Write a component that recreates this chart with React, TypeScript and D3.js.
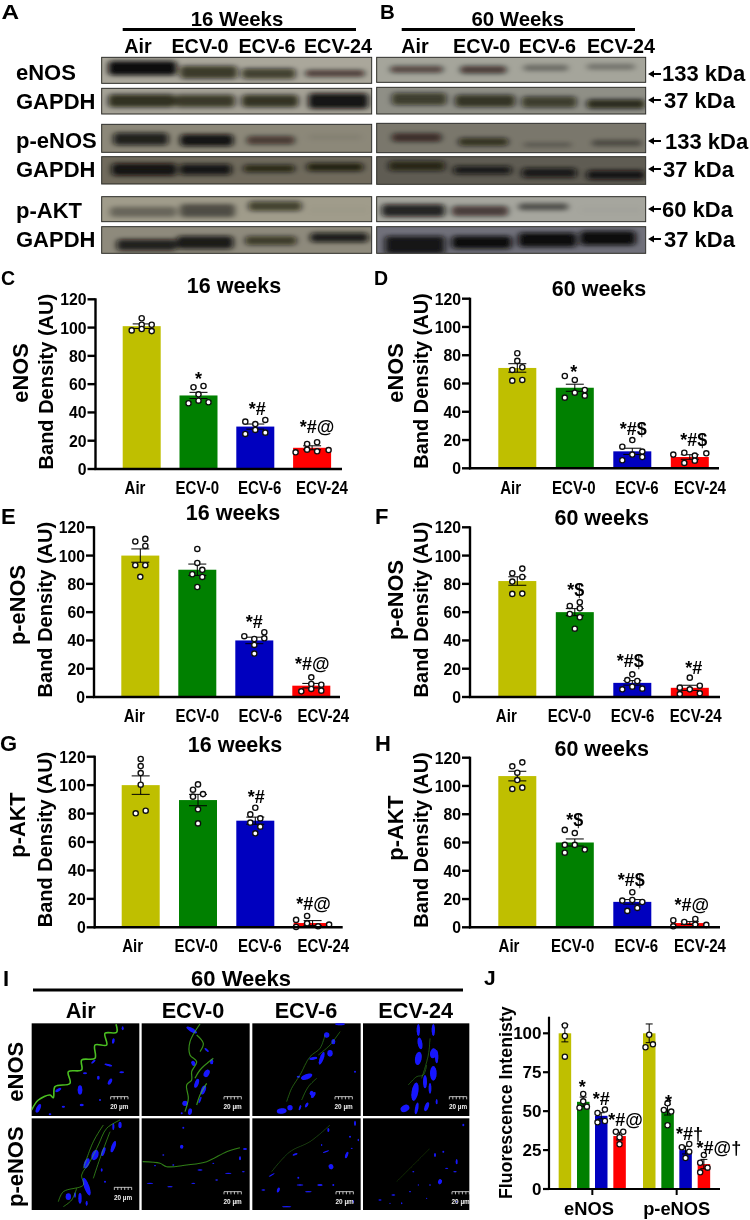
import React from "react";
import * as d3 from "d3";

const FONT = "'Liberation Sans', Arial, sans-serif";
const categories = ["Air", "ECV-0", "ECV-6", "ECV-24"];
const barColors = ["#bfbf00", "#008000", "#0000bf", "#ff0000"];
const yTicks = [0, 20, 40, 60, 80, 100, 120];

// ---- Band density panels ----
const cMeans = [101, 52, 30, 15];
const cErrs = [1.6, 2.2, 1.8, 1.4];
const cPoints = [[98, 106.6, 102, 102, 99, 97.5], [46.5, 57.8, 58.7, 52.8, 48.3, 47.2], [24.8, 33.5, 31.8, 27.6, 34.7, 25.7], [11.8, 17.7, 13.7, 18.9, 12.5, 13.4]];
const cSlots = [[-2, 0, 0, 2, 0, 2], [-2, -1, 1, 0, 0, 2], [-2, -2, 0, 0, 2, 2], [-3.3, -1, -1, 1, 1, 3.3]];
const cSig = ["", "*", "*#", "*#@"];
const cSigY = [0, 59.4, 38, 25.2];

const dMeans = [71, 57, 12, 8];
const dErrs = [3, 2.5, 2.2, 1.6];
const dPoints = [[62, 69.6, 81.4, 76, 71.5, 62.5], [65.3, 50, 62.5, 53.5, 55.4, 51.4], [15.3, 5.7, 20, 9.7, 11.8, 8], [9.7, 11, 3.8, 9, 5.4, 10.6]];
const dSlots = [[-1, -1, 0, 0, 1, 1], [-2, -2, 0, 0, 2, 2], [-2, -2, 0, 0, 2, 2], [-3.3, -1.1, -1.1, 1, 1, 3.3]];
const dSig = ["", "*", "*#$", "*#$"];
const dSigY = [0, 64, 23.8, 15.8];

const eMeans = [100, 90, 40, 8];
const eErrs = [4.7, 4, 2.3, 1.6];
const ePoints = [[110, 111.8, 106.8, 93.2, 93.2, 85], [104.7, 94.8, 89.9, 86.8, 84.9, 77.8], [43, 45.8, 41.5, 41, 36.8, 30.7], [4, 13.9, 9.2, 5.7, 8.7, 4.5]];
const eSlots = [[-1, 1, 1, -1, 1, 0], [0, 0, 1, -1, 1, 0], [-2, 2, 2, 0, 0, 0], [-2, 0, 0, 0, 2, 2]];
const eSig = ["", "", "*#", "*#@"];
const eSigY = [0, 0, 49, 18.9];

const fMeans = [82, 60, 10, 6.5];
const fErrs = [3, 2.5, 1.6, 1.8];
const fPoints = [[87.5, 90.8, 81.6, 84.9, 72.9, 73.1], [64.4, 67, 62.7, 58.7, 56.4, 48.3], [16, 12, 11.3, 7.3, 5.4, 5.9], [13.7, 6.6, 8, 5.4, 2.1, 2.6]];
const fSlots = [[-1, 1, -1, 1, -1, 1], [-1, 1, 1, -1, 1, 0], [0, -1, 1, 0, -2, 2], [0, -2, 2, 0, -2, 2]];
const fSig = ["", "*$", "*#$", "*#"];
const fSigY = [0, 71.2, 21.2, 16.5];

const gMeans = [100, 89.5, 75, 3];
const gErrs = [6.5, 4, 2.5, 1.7];
const gPoints = [[118.4, 113.4, 108.5, 100.3, 80.2, 82], [100.5, 96.8, 93.7, 91.9, 83, 73.1], [84.1, 79.4, 76.6, 73.6, 70.8, 66.1], [5.2, 8, 2.8, 0.7, 0.2, 1.9]];
const gSlots = [[0, 0, 0, 0, -1, 1], [0, -1, 1, -1, 0, 0], [0, -1, 1, -1, 1, 0], [-3.3, -1.1, -1.1, 1.1, -3.3, 3.3]];
const gSig = ["", "", "*#", "*#@"];
const gSigY = [0, 0, 87.4, 12.4];

const hMeans = [107, 60, 18, 3];
const hErrs = [3.4, 2.5, 1.6, 1];
const hPoints = [[116.7, 113.9, 109.4, 104.2, 98.8, 97.9], [68.9, 66.7, 58.3, 58.3, 55, 52.8], [24.8, 18.9, 17.9, 19.3, 13.7, 11.6], [5, 3.8, 5.9, 0.7, 1.9, 1.7]];
const hSlots = [[1, -1, 0, 0, 1, -1], [-2, 0, -2, 0, 2, -2], [0, -2, 2, 0, 1, -1], [-3.3, -1.1, 1.1, -3.3, 1.1, 3.3]];
const hSig = ["", "*$", "*#$", "*#@"];
const hSigY = [0, 72, 29, 11.6];

// ---- Fluorescence panel J ----
const jGroups = ["eNOS", "p-eNOS"];
const jTicks = [0, 25, 50, 75, 100];
const jMeans = [[100, 56, 47, 34], [100, 51, 25, 16]];
const jErrs = [[5.5, 3, 2, 2.5], [6, 3.5, 2.5, 3]];
const jPoints = [
  [[105, 98.3, 85], [61, 52.2, 52.9, 56.3], [48.8, 51, 42.8, 43.7], [36.8, 36.8, 28.7, 33.2]],
  [[99.1, 91, 92.9], [55, 50.7, 49.7, 40.9], [26.8, 28.9, 24, 19.9], [16.9, 21.8, 13.7, 10.7]],
];
const jSlots = [
  [[0, 0, 0], [0, -1, 1, 0], [-1, 1, -1, 1], [-1, 1, 0, 0]],
  [[0, -1, 1], [0, -1, 1, 0], [-1, 1, 1, 0], [-1, 0, 1, -1]],
];
const jSig = [["", "*", "*#", "*#@"], ["", "*", "*#†", "*#@†"]];
const jSigY = [[0, 61.9, 53.7, 40.5], [0, 52, 31.3, 22.7]];
const jSigDx = [[0, -1, 0, 6], [0, 1, 4, 15]];

// ---- Western blots: one row per membrane; x0,x1,y0,y1 in source-image units, alpha = band darkness ----
const blotRowsA = [
  { y0: 172, y1: 250, bg: "#aaa79b", bands: [[325, 530, 183, 226, 1], [540, 712, 197, 236, .72], [725, 887, 205, 237, .68], [915, 1095, 209, 231, .6]] },
  { y0: 265, y1: 342, bg: "#a5a296", bands: [[325, 525, 283, 322, .78], [525, 705, 284, 322, .72], [725, 895, 284, 322, .76], [925, 1105, 280, 326, .95]] },
  { y0: 373, y1: 457, bg: "#8c8879", bands: [[340, 505, 398, 436, .85], [540, 700, 403, 439, .95], [740, 885, 407, 434, .55], [925, 1085, 403, 420, .06]] },
  { y0: 470, y1: 552, bg: "#6f6a5c", bands: [[335, 530, 490, 527, .95], [538, 695, 492, 525, .9], [730, 885, 494, 517, .75], [920, 1090, 489, 514, .8]] },
  { y0: 590, y1: 665, bg: "#a09c8b", bands: [[330, 530, 620, 651, .35], [540, 705, 612, 652, .5], [745, 905, 604, 633, .65], [925, 1105, 620, 640, .02]] },
  { y0: 680, y1: 760, bg: "#8e8a7c", bands: [[350, 530, 718, 752, .85], [530, 700, 708, 747, .9], [735, 890, 708, 736, .65], [930, 1105, 698, 727, .88]] },
];
const blotRowsB = [
  { y0: 172, y1: 247, bg: "#a5a59b", bands: [[45, 205, 197, 219, .55], [255, 395, 197, 221, .62], [445, 580, 194, 213, .35], [635, 780, 191, 209, .3]] },
  { y0: 262, y1: 342, bg: "#8f8f86", bands: [[50, 215, 278, 316, .65], [240, 420, 284, 321, .72], [440, 605, 289, 323, .65], [635, 810, 298, 326, .78]] },
  { y0: 370, y1: 458, bg: "#7a776c", bands: [[50, 200, 399, 426, .6], [250, 400, 413, 438, .68], [445, 590, 427, 442, .25], [650, 800, 419, 439, .38]] },
  { y0: 470, y1: 553, bg: "#5f5c53", bands: [[40, 210, 483, 513, .7], [235, 410, 498, 523, .85], [440, 605, 504, 533, .85], [635, 810, 511, 539, .9]] },
  { y0: 590, y1: 665, bg: "#a6a69e", bands: [[20, 210, 613, 650, .85], [230, 400, 617, 649, .62], [430, 580, 610, 631, .52], [615, 800, 620, 640, .02]] },
  { y0: 680, y1: 760, bg: "#70707a", bands: [[30, 210, 708, 762, .9], [230, 410, 708, 746, 1], [430, 605, 698, 741, 1], [615, 782, 693, 736, 1]] },
];
const blotLabels = ["eNOS", "GAPDH", "p-eNOS", "GAPDH", "p-AKT", "GAPDH"];
const blotLabelBaselines = [80, 109, 148, 177, 218, 247];
const sizeMarkers = ["133 kDa", "37 kDa", "133 kDa", "37 kDa", "60 kDa", "37 kDa"];
const sizeMarkerX = [662, 664, 665, 663, 662, 664];
const sizeMarkerBaselines = [81, 108, 149, 177, 217, 247];
const sizeMarkerArrows = [74, 100, 141, 169, 209, 239];

// ---- Micrographs: nuclei [x,y,rx,ry,angle] and green fibres [x,y], in source-image units ----
const nuclei = [
  [[240, 405, 7, 14, 0], [175, 405, 10, 4, -30], [115, 460, 6, 14, 25], [245, 450, 6, 4, 0], [330, 380, 5, 10, 30], [365, 352, 7, 3, 0], [325, 330, 12, 3, 15], [295, 368, 4, 6, 0], [280, 320, 8, 3, -40], [340, 258, 4, 8, 10], [368, 220, 3, 6, 0], [255, 355, 6, 3, 0], [190, 455, 5, 3, 0], [300, 435, 3, 3, 0], [150, 478, 4, 3, 0]],
  [[575, 225, 18, 6, 30], [620, 285, 8, 3, 40], [580, 325, 6, 8, -30], [620, 355, 8, 12, 30], [590, 385, 6, 14, 20], [610, 405, 7, 14, 20], [555, 445, 8, 8, 0], [570, 470, 6, 10, 10], [635, 320, 5, 8, 0], [545, 475, 3, 3, 0], [600, 435, 3, 10, 20]],
  [[1020, 207, 15, 4, 0], [980, 240, 8, 8, 0], [1000, 260, 6, 8, 0], [990, 295, 8, 10, 0], [965, 310, 6, 20, 20], [940, 310, 12, 4, -10], [920, 365, 18, 8, -20], [895, 365, 5, 3, 0], [935, 415, 6, 8, 0], [845, 468, 15, 8, -10], [870, 458, 8, 8, 0], [900, 458, 3, 8, 20], [920, 450, 4, 8, 30], [940, 420, 5, 10, 30], [1065, 350, 3, 3, 0]],
  [[1255, 225, 5, 18, 0], [1300, 225, 5, 18, 0], [1260, 265, 7, 18, -10], [1300, 295, 10, 15, 10], [1255, 310, 10, 20, 10], [1310, 305, 5, 20, 0], [1300, 355, 10, 22, 0], [1275, 380, 6, 20, 0], [1245, 410, 10, 28, 10], [1290, 400, 4, 16, 0], [1215, 460, 14, 10, -30], [1250, 460, 5, 18, 10], [1280, 455, 6, 14, 20], [1310, 440, 3, 8, 0]],
  [[360, 510, 5, 10, 0], [340, 515, 3, 10, 0], [340, 575, 6, 18, 20], [310, 590, 5, 14, 20], [285, 600, 10, 16, 20], [260, 625, 8, 16, 20], [305, 645, 3, 5, 0], [260, 695, 8, 28, -20], [240, 730, 5, 16, 0], [205, 725, 8, 10, 0], [225, 720, 3, 8, 0], [260, 745, 3, 8, 0], [315, 680, 3, 3, 0]],
  [[545, 575, 5, 6, 0], [550, 518, 3, 3, 0], [490, 600, 3, 2, 0], [735, 582, 6, 3, 0], [720, 610, 3, 6, 0], [600, 645, 8, 2, 0], [685, 655, 10, 2, 0], [580, 685, 6, 2, 0], [450, 685, 10, 2, 0], [510, 695, 8, 2, 0], [650, 675, 4, 2, 0], [730, 650, 4, 2, 0], [640, 625, 3, 2, 0], [520, 630, 3, 2, 0], [465, 632, 3, 2, 0]],
  [[885, 598, 8, 3, -20], [1040, 600, 4, 10, 20], [993, 635, 7, 8, -20], [978, 590, 10, 2, -20], [1050, 545, 3, 3, 0], [1075, 555, 2, 4, 0], [1055, 580, 3, 2, 0], [965, 570, 2, 3, 0], [900, 690, 10, 2, 0], [835, 705, 4, 8, 20], [925, 710, 10, 2, 0], [860, 755, 14, 2, 0], [960, 690, 8, 3, 0], [1000, 690, 3, 3, 0], [815, 660, 10, 2, -30], [790, 705, 6, 2, 0], [1060, 740, 2, 4, 0], [895, 668, 3, 3, 0], [985, 525, 3, 6, 0], [1065, 505, 3, 8, 0]],
  [[1320, 680, 6, 8, 20], [1240, 650, 3, 2, 0], [1305, 600, 3, 6, 0], [1340, 640, 5, 2, 0], [1365, 650, 5, 2, 0], [1180, 720, 6, 2, 0], [1140, 735, 5, 2, 0], [1230, 710, 3, 2, 0], [1390, 510, 3, 4, 0], [1370, 620, 3, 8, 0], [1330, 590, 3, 3, 0], [1290, 690, 2, 3, 0], [1205, 745, 2, 3, 0], [1170, 745, 2, 2, 0], [1280, 730, 2, 2, 0], [1255, 690, 2, 2, 0], [1370, 740, 2, 2, 0]],
];
const fibres = [
  [[[95, 465], [115, 435], [150, 420], [160, 428], [165, 395], [210, 385], [205, 350], [245, 345], [245, 315], [285, 310], [285, 270], [320, 270], [315, 235], [350, 232], [348, 208]]],
  [[[600, 207], [570, 260], [570, 300], [590, 320], [575, 350], [575, 375], [560, 390], [565, 430], [555, 470]], [[640, 310], [600, 345], [585, 370]], [[590, 240], [610, 265], [600, 290]], [[620, 385], [600, 420], [590, 450]]],
  [[[975, 240], [960, 280], [930, 305], [900, 360], [875, 400], [860, 440]], [[1020, 230], [990, 270], [955, 300]], [[950, 370], [925, 395], [905, 435]]],
  [[[1280, 330], [1270, 360], [1250, 365], [1225, 390]], [[1290, 250], [1285, 300], [1265, 370]]],
  [[[360, 495], [320, 520], [295, 570], [270, 620], [245, 660], [250, 690], [190, 710], [175, 740]], [[330, 530], [300, 610], [280, 670]], [[310, 510], [280, 560], [250, 640]], [[230, 700], [215, 735], [190, 755]]],
  [[[428, 620], [480, 625], [500, 635], [560, 630], [620, 620], [680, 590], [720, 578]]],
  [[[815, 650], [870, 590], [930, 560], [990, 510]]],
  [[[1190, 680], [1240, 630], [1290, 580]]],
];
const fibreOpacity = [1, .75, .45, .4, .6, .65, .35, .25];
const fibreWidth = [1.6, 1.2, 1, 1, 1, 1.1, .9, .8];
const micrographRects = [
  [95, 205, 418, 483], [425, 205, 749, 483], [757, 205, 1082, 483], [1089, 205, 1408, 483],
  [95, 490, 418, 765], [425, 490, 749, 765], [757, 490, 1082, 765], [1089, 490, 1408, 765],
];
const scaleBars = [[332, 425], [672, 425], [1005, 425], [1348, 425], [343, 697], [672, 710], [1008, 710], [1356, 710]];

// ---- helpers ----
const T = ({ x, y, size = 17, anchor = "middle", rotate, sx = 1, children }: any) => (
  <text
    transform={`translate(${x},${y})${rotate ? ` rotate(${rotate})` : ""}${sx !== 1 ? ` scale(${sx},1)` : ""}`}
    textAnchor={anchor} fontFamily={FONT} fontWeight="bold" fontSize={size} fill="#000"
  >{children}</text>
);

const CrossBar = ({ x, top, bottom, capW }: any) => (
  <g stroke="#000" strokeWidth={1} fill="none">
    <line x1={x} x2={x} y1={top} y2={bottom} />
    <line x1={x - capW / 2} x2={x + capW / 2} y1={top} y2={top} />
    <line x1={x - capW / 2} x2={x + capW / 2} y1={bottom} y2={bottom} />
  </g>
);

function BarPanel({ p }: any) {
  const y = d3.scaleLinear().domain([0, 120]).range([p.y0, p.y120]);
  const step = p.step;
  const bw = 38;
  const x = d3.scaleBand().domain(categories).range([p.barStart - (step - bw) / 2, p.barStart - (step - bw) / 2 + 4 * step]).paddingInner(1 - bw / step).paddingOuter((1 - bw / step) / 2);
  const lx = d3.scalePoint().domain(categories).range(p.labelRange);
  return (
    <g>
      {categories.map((c, i) => {
        const cx = x(c)! + x.bandwidth() / 2;
        return (
          <g key={c}>
            <rect x={x(c)} y={y(p.means[i])} width={x.bandwidth()} height={p.y0 - y(p.means[i])} fill={barColors[i]} />
            <CrossBar x={cx} top={y(p.means[i] + p.errs[i])} bottom={y(p.means[i] - p.errs[i])} capW={18} />
            {p.points[i].map((v: number, k: number) => (
              <circle key={k} cx={cx + p.slots[i][k] * 5} cy={y(v)} r={2.6} fill="#fff" stroke="#111" strokeWidth={1.4} />
            ))}
            {p.sig[i] && <T x={cx + (p.sigDx[i] || 0)} y={y(p.sigY[i])} size={18}>{p.sig[i]}</T>}
            <T x={lx(c)} y={p.labelY} size={17.5} sx={.86}>{c}</T>
          </g>
        );
      })}
      <line x1={p.axisX} x2={p.axisX} y1={p.y120 - 1} y2={p.y0 + 1} stroke="#000" strokeWidth={2.4} />
      <line x1={p.axisX - 1} x2={p.axisEnd} y1={p.y0} y2={p.y0} stroke="#000" strokeWidth={2.4} />
      {yTicks.map(t => (
        <g key={t}>
          <line x1={p.axisX - 8} x2={p.axisX} y1={y(t)} y2={y(t)} stroke="#000" strokeWidth={2.4} />
          <T x={p.axisX - 9} y={y(t) + 6} anchor="end" size={17} sx={.93}>{t}</T>
        </g>
      ))}
      <T x={p.axisX - 42.5} y={(p.y0 + p.y120) / 2 - 2.5} rotate={-90} size={20}>Band Density (AU)</T>
      <T x={p.rowX} y={p.rowY} rotate={-90} size={21.8}>{p.row}</T>
      <T x={p.titleX} y={p.titleY} size={21.5}>{p.title}</T>
      <T x={p.letterX} y={p.letterY} anchor="start" size={p.letterSize}>{p.letter}</T>
    </g>
  );
}

const barPanels = [
  { letter: "C", letterSize: 19.5, letterX: 1, letterY: 285, means: cMeans, errs: cErrs, points: cPoints, slots: cSlots, sig: cSig, sigY: cSigY, sigDx: [0, 0, 2, 5], axisX: 95.5, axisEnd: 342, y0: 469, y120: 299.3, barStart: 122.7, step: 56.8, labelRange: [135, 322], labelY: 494, row: "eNOS", rowX: 28.3, rowY: 373, title: "16 weeks", titleX: 234, titleY: 292.7 },
  { letter: "D", letterSize: 19.5, letterX: 374, letterY: 285, means: dMeans, errs: dErrs, points: dPoints, slots: dSlots, sig: dSig, sigY: dSigY, sigDx: [0, -1, 1, 4], axisX: 470, axisEnd: 719, y0: 468.3, y120: 298.7, barStart: 498.3, step: 57.5, labelRange: [510.7, 700], labelY: 493.5, row: "eNOS", rowX: 28.3 + 375, rowY: 373, title: "60 weeks", titleX: 599, titleY: 296 },
  { letter: "E", letterSize: 22, letterX: 1, letterY: 524, means: eMeans, errs: eErrs, points: ePoints, slots: eSlots, sig: eSig, sigY: eSigY, sigDx: [0, 0, 0, 1], axisX: 94, axisEnd: 340, y0: 697, y120: 527.3, barStart: 121.3, step: 57, labelRange: [134.3, 323.3], labelY: 721.7, row: "p-eNOS", rowX: 25, rowY: 605, title: "16 weeks", titleX: 233, titleY: 520 },
  { letter: "F", letterSize: 22, letterX: 375, letterY: 524, means: fMeans, errs: fErrs, points: fPoints, slots: fSlots, sig: fSig, sigY: fSigY, sigDx: [0, 1, -2, 4], axisX: 470, axisEnd: 720, y0: 697, y120: 527.3, barStart: 498.3, step: 57.5, labelRange: [506.3, 695.7], labelY: 721.7, row: "p-eNOS", rowX: 403, rowY: 600, title: "60 weeks", titleX: 601.7, titleY: 525 },
  { letter: "G", letterSize: 22, letterX: 0, letterY: 751, means: gMeans, errs: gErrs, points: gPoints, slots: gSlots, sig: gSig, sigY: gSigY, sigDx: [0, 0, 1, 1], axisX: 94.7, axisEnd: 342.7, y0: 927.3, y120: 756.7, barStart: 121.7, step: 57.3, labelRange: [132.7, 323.3], labelY: 951.7, row: "p-AKT", rowX: 25, rowY: 825, title: "16 weeks", titleX: 235, titleY: 751.7 },
  { letter: "H", letterSize: 22, letterX: 375, letterY: 751, means: hMeans, errs: hErrs, points: hPoints, slots: hSlots, sig: hSig, sigY: hSigY, sigDx: [0, 0, -1, 2], axisX: 470, axisEnd: 720, y0: 927.3, y120: 757.7, barStart: 498.3, step: 57.5, labelRange: [509, 700], labelY: 951.7, row: "p-AKT", rowX: 403, rowY: 828, title: "60 weeks", titleX: 601.7, titleY: 755.7 },
];

function Blots({ rows, x0, x1, originX, id }: any) {
  const sx = d3.scaleLinear().domain([0, 1125]).range([originX, originX + 375]);
  const sy = d3.scaleLinear().domain([0, 780]).range([0, 260]);
  return (
    <g>
      {rows.map((r: any, i: number) => (
        <g key={i}>
          <clipPath id={`${id}${i}`}><rect x={sx(x0)} y={sy(r.y0)} width={sx(x1) - sx(x0)} height={sy(r.y1) - sy(r.y0)} /></clipPath>
          <g clipPath={`url(#${id}${i})`}>
            <rect x={sx(x0)} y={sy(r.y0)} width={sx(x1) - sx(x0)} height={sy(r.y1) - sy(r.y0)} fill={r.bg} />
            <g filter="url(#bandBlur)">
              {r.bands.map((b: number[], k: number) => (
                <rect key={k} x={sx(b[0])} y={sy(b[2])} width={sx(b[1]) - sx(b[0])} height={sy(b[3]) - sy(b[2])} rx={4} fill="#0c0a08" opacity={b[4]} />
              ))}
            </g>
          </g>
          <rect x={sx(x0)} y={sy(r.y0)} width={sx(x1) - sx(x0)} height={sy(r.y1) - sy(r.y0)} fill="none" stroke="#2a2a26" strokeWidth={1} />
        </g>
      ))}
    </g>
  );
}

function Micrographs() {
  const mx = d3.scaleLinear().domain([0, 1440]).range([0, 480]);
  const my = d3.scaleLinear().domain([0, 795]).range([955, 1220]);
  const line = d3.line<number[]>().x(d => mx(d[0])).y(d => my(d[1])).curve(d3.curveCatmullRom);
  return (
    <g>
      {micrographRects.map((r, i) => (
        <g key={i}>
          <clipPath id={`mic${i}`}><rect x={mx(r[0])} y={my(r[1])} width={mx(r[2]) - mx(r[0])} height={my(r[3]) - my(r[1])} /></clipPath>
          <rect x={mx(r[0])} y={my(r[1])} width={mx(r[2]) - mx(r[0])} height={my(r[3]) - my(r[1])} fill="#000" />
          <g clipPath={`url(#mic${i})`}>
            <g filter="url(#micBlur)">
              {nuclei[i].map((n, k) => (
                <ellipse key={k} cx={0} cy={0} rx={mx(n[2])} ry={mx(n[3])} fill="#1818ff"
                  transform={`translate(${mx(n[0])},${my(n[1])}) rotate(${n[4]})`} />
              ))}
              {fibres[i].map((f, k) => (
                <path key={k} d={line(f as number[][])!} fill="none" stroke="#4cc020" strokeWidth={fibreWidth[i]} opacity={fibreOpacity[i]} />
              ))}
            </g>
          </g>
          <g stroke="#e8e8e8" strokeWidth={.8} fill="none">
            <line x1={mx(scaleBars[i][0])} x2={mx(scaleBars[i][0] + 52)} y1={my(scaleBars[i][1])} y2={my(scaleBars[i][1])} />
            {d3.range(0, 53, 10.4).map(o => (
              <line key={o} x1={mx(scaleBars[i][0] + o)} x2={mx(scaleBars[i][0] + o)} y1={my(scaleBars[i][1])} y2={my(scaleBars[i][1] + 8)} />
            ))}
          </g>
          <text x={mx(scaleBars[i][0] + 26)} y={my(scaleBars[i][1] + 38)} fill="#f0f0f0" fontFamily={FONT} fontWeight="bold" fontSize={6.4} textAnchor="middle">20 µm</text>
        </g>
      ))}
    </g>
  );
}

function PanelJ() {
  const y = d3.scaleLinear().domain([0, 100]).range([1189, 1033.3]);
  const x = d3.scaleLinear().domain([0, 810]).range([480, 750]);
  const barStarts = [[236, 291, 345, 400], [489, 544, 598, 653]];
  return (
    <g>
      {jGroups.map((g, gi) => (
        <g key={g}>
          {categories.map((c, i) => {
            const left = x(barStarts[gi][i]);
            const cx = left + 6.2;
            const m = jMeans[gi][i], e = jErrs[gi][i];
            return (
              <g key={c}>
                <rect x={left} y={y(m)} width={12.5} height={1189 - y(m)} fill={barColors[i]} />
                <CrossBar x={cx} top={y(m + e)} bottom={y(m - e)} capW={7} />
                {jPoints[gi][i].map((v, k) => (
                  <circle key={k} cx={cx + jSlots[gi][i][k] * 3.7} cy={y(v)} r={2.6} fill="#fff" stroke="#111" strokeWidth={1.3} />
                ))}
                {jSig[gi][i] && <T x={cx + jSigDx[gi][i]} y={y(jSigY[gi][i])} size={18}>{jSig[gi][i]}</T>}
              </g>
            );
          })}
          <line x1={x(gi ? 590 : 337)} x2={x(gi ? 590 : 337)} y1={1189} y2={1195} stroke="#000" strokeWidth={2} />
          <T x={x(gi ? 590 : 327)} y={1214.5} size={18.3}>{g}</T>
        </g>
      ))}
      <line x1={549} x2={549} y1={1016.7} y2={1190} stroke="#000" strokeWidth={2.2} />
      <line x1={548} x2={720} y1={1189} y2={1189} stroke="#000" strokeWidth={2.2} />
      {jTicks.map(t => (
        <g key={t}>
          <line x1={543} x2={549} y1={y(t)} y2={y(t)} stroke="#000" strokeWidth={2.2} />
          <T x={541.5} y={y(t) + 6} anchor="end" size={17}>{t}</T>
        </g>
      ))}
      <T x={512} y={1102.7} rotate={-90} size={17.8}>Fluorescence Intenisty</T>
      <T x={484} y={985} anchor="start" size={21}>J</T>
    </g>
  );
}

export default function App() {
  return (
    <svg width={750} height={1220} style={{ position: "absolute", left: 0, top: 0, background: "#fff" }}>
      <defs>
        <filter id="bandBlur" x="-20%" y="-60%" width="140%" height="220%"><feGaussianBlur stdDeviation="3 2.2" /></filter>
        <filter id="micBlur" x="-10%" y="-10%" width="120%" height="120%"><feGaussianBlur stdDeviation=".6" /></filter>
        <filter id="soft" filterUnits="userSpaceOnUse" x="0" y="0" width="750" height="1220"><feGaussianBlur stdDeviation=".35" /></filter>
      </defs>
      <g filter="url(#soft)">
        {/* A / B: western blots */}
        <T x={1.5} y={19} anchor="start" size={19.5} sx={1.25}>A</T>
        <T x={380} y={18.5} anchor="start" size={19.5} sx={1.05}>B</T>
        <T x={237} y={26} size={20.4}>16 Weeks</T>
        <T x={517.7} y={26} size={20.4}>60 Weeks</T>
        <line x1={122.7} x2={356} y1={29.5} y2={29.5} stroke="#000" strokeWidth={3} />
        <line x1={401.7} x2={635} y1={29.5} y2={29.5} stroke="#000" strokeWidth={3} />
        {categories.map((c, i) => (
          <g key={c}>
            <T x={[138, 200, 267, 338][i]} y={53} size={19.8}>{c}</T>
            <T x={[415, 481.7, 547.3, 621][i]} y={53} size={19.8}>{c}</T>
          </g>
        ))}
        <Blots rows={blotRowsA} x0={305} x1={1115} originX={0} id="ba" />
        <Blots rows={blotRowsB} x0={5} x1={812} originX={375} id="bb" />
        {blotLabels.map((l, i) => (
          <T key={i} x={16} y={blotLabelBaselines[i]} anchor="start" size={22}>{l}</T>
        ))}
        {sizeMarkers.map((l, i) => (
          <g key={i}>
            <T x={sizeMarkerX[i]} y={sizeMarkerBaselines[i]} anchor="start" size={22}>{l}</T>
            <path d={`M${648},${sizeMarkerArrows[i]} l6,-3.5 v2.5 h7 v2 h-7 v2.5 z`} fill="#000" />
          </g>
        ))}

        {/* C–H: band density */}
        {barPanels.map(p => <BarPanel key={p.letter} p={p} />)}

        {/* I: immunofluorescence */}
        <T x={3} y={985.5} anchor="start" size={22}>I</T>
        <T x={241} y={986} size={22}>60 Weeks</T>
        <line x1={33} x2={463} y1={990} y2={990} stroke="#000" strokeWidth={3} />
        {categories.map((c, i) => (
          <T key={c} x={[80.7, 193, 306, 415.7][i]} y={1017.5} size={21.7}>{c}</T>
        ))}
        <T x={23} y={1071.7} rotate={-90} size={22}>eNOS</T>
        <T x={23} y={1166.7} rotate={-90} size={22}>p-eNOS</T>
        <Micrographs />

        {/* J */}
        <PanelJ />
      </g>
    </svg>
  );
}
